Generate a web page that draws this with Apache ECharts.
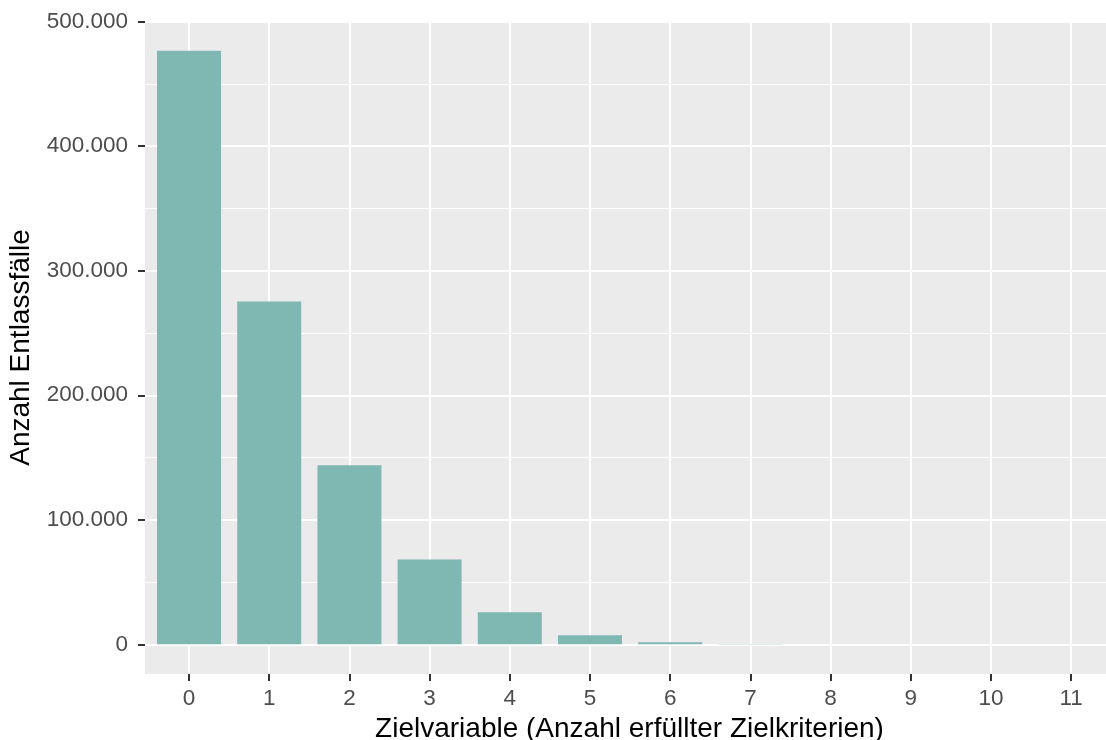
<!DOCTYPE html>
<html>
<head>
<meta charset="utf-8">
<script src="https://cdn.jsdelivr.net/npm/echarts@6/dist/echarts.min.js"></script>
<style>
html,body{margin:0;padding:0;background:#fff;}
#c{width:1106px;height:740px;}
</style>
</head>
<body>
<div id="c"></div>
<script>
const categories = [0, 1, 2, 3, 4, 5, 6, 7, 8, 9, 10, 11];
const counts = [476700, 275300, 143700, 68200, 25700, 7200, 1600, 300, 60, 15, 3, 1];
const yMajorTicks = [0, 100000, 200000, 300000, 400000, 500000];
const yMinorTicks = [50000, 150000, 250000, 350000, 450000];
const xTitle = 'Zielvariable (Anzahl erfüllter Zielkriterien)';
const yTitle = 'Anzahl Entlassfälle';

function fmtDE(v) {
  return String(Math.round(v)).replace(/\B(?=(\d{3})+(?!\d))/g, '.');
}

const chart = echarts.init(document.getElementById('c'), null, {renderer: 'canvas'});
const font = 'Liberation Sans, Arial, Helvetica, sans-serif';
const yMax = counts[0] * 1.05;
const yMin = -counts[0] * 0.05;

chart.setOption({
  animation: false,
  backgroundColor: '#ffffff',
  grid: {
    left: 145, right: -8, top: 21, bottom: 66,
    show: true, backgroundColor: '#EBEBEB', borderWidth: 0,
    containLabel: false,
    outerBoundsMode: 'none'
  },
  xAxis: {
    type: 'value',
    min: -0.549,
    max: 11.534,
    name: xTitle,
    nameLocation: 'middle',
    nameGap: 35,
    nameTextStyle: {color: '#000000', fontSize: 28, fontFamily: font},
    axisLine: {show: false, onZero: false},
    axisTick: {show: true, length: 7, lineStyle: {color: '#333333', width: 2}, customValues: categories},
    axisLabel: {color: '#4D4D4D', fontSize: 22.5, fontFamily: font, margin: 13, customValues: categories,
      formatter: v => String(Math.round(v))},
    splitLine: {show: true, lineStyle: {color: '#ffffff', width: 2}}
  },
  yAxis: [{
    type: 'value',
    min: yMin,
    max: yMax,
    name: yTitle,
    nameLocation: 'middle',
    nameGap: 110,
    nameTextStyle: {color: '#000000', fontSize: 28, fontFamily: font},
    axisLine: {show: false, onZero: false},
    axisTick: {show: true, length: 7, lineStyle: {color: '#333333', width: 2}, customValues: yMajorTicks},
    axisLabel: {color: '#4D4D4D', fontSize: 22.5, fontFamily: font, margin: 17, customValues: yMajorTicks,
      formatter: v => fmtDE(v)},
    splitLine: {show: true, lineStyle: {color: '#ffffff', width: 2}}
  }, {
    type: 'value',
    min: yMin,
    max: yMax,
    position: 'left',
    axisLine: {show: false, onZero: false},
    axisTick: {show: false, customValues: yMinorTicks},
    axisLabel: {show: false, customValues: yMinorTicks},
    splitLine: {show: true, lineStyle: {color: '#ffffff', width: 1}}
  }],
  series: [{
    type: 'bar',
    yAxisIndex: 0,
    barWidth: 64,
    itemStyle: {color: '#7FB7B2'},
    data: categories.map((c, i) => [c, counts[i]])
  }]
});
</script>
</body>
</html>
